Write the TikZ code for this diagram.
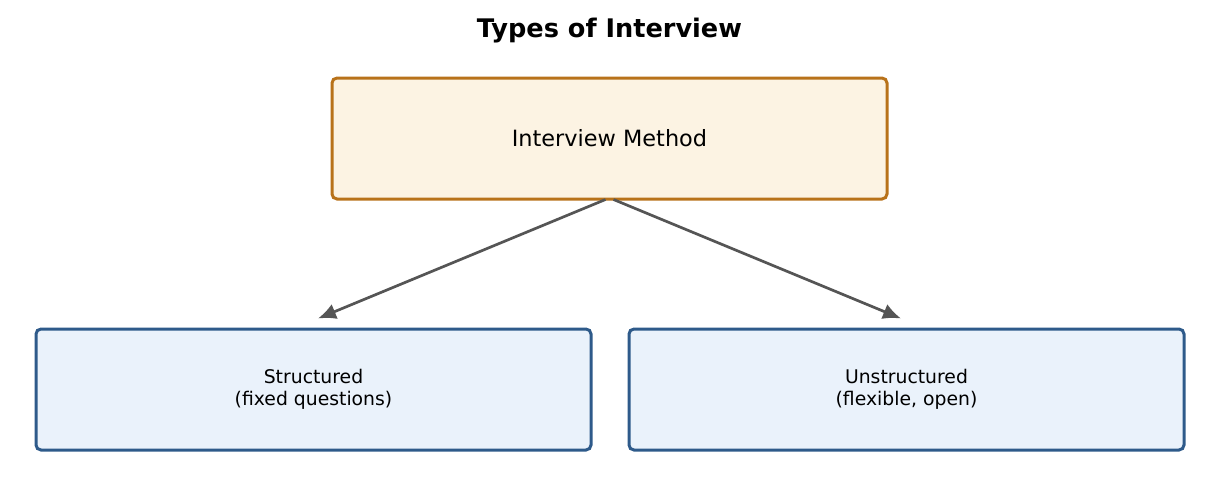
\documentclass[tikz,border=0pt]{standalone}
\usepackage{fontspec}
\setmainfont{DejaVu Sans}
\usetikzlibrary{arrows.meta,calc}
\definecolor{topfill}{HTML}{FCF3E3}
\definecolor{topdraw}{HTML}{B8721A}
\definecolor{botfill}{HTML}{EAF2FB}
\definecolor{botdraw}{HTML}{2E5A8A}
\definecolor{arr}{HTML}{555555}
\tikzset{
  topbox/.style={draw=topdraw, fill=topfill, line width=3pt, rounded corners=5pt,
    minimum width=555pt, minimum height=121pt, inner sep=0pt, font=\fontsize{22.4pt}{26pt}\selectfont},
  botbox/.style={draw=botdraw, fill=botfill, line width=3pt, rounded corners=5pt,
    minimum width=555pt, minimum height=121pt, inner sep=0pt, align=center,
    font=\fontsize{18.8pt}{22pt}\selectfont},
  conn/.style={draw=arr, line width=2.7pt, -{Latex[length=18pt,width=16pt]}},
  titletext/.style={font=\fontsize{25.6pt}{30pt}\selectfont\bfseries}
}
\begin{document}
\begin{tikzpicture}[x=1pt,y=-1pt]
\useasboundingbox (0,0) rectangle (1219,496);
\node[titletext] (title) at (609.5,30.5) {Types of Interview};
\node[topbox] (top) at (609.5,138.5) {Interview Method};
\node[botbox] (left) at (313.5,389.5) {Structured\\(fixed questions)};
\node[botbox] (right) at (906.5,389.5) {Unstructured\\(flexible, open)};
\coordinate (s1) at ($(top.south)+(-4,-1)$);
\coordinate (s2) at ($(top.south)+(4,-1)$);
\coordinate (e1) at ($(left.north)+(4.5,-9)$);
\coordinate (e2) at ($(right.north)+(-5.5,-9)$);
\draw[conn] (s1) -- (e1);
\draw[conn] (s2) -- (e2);
\end{tikzpicture}
\end{document}
